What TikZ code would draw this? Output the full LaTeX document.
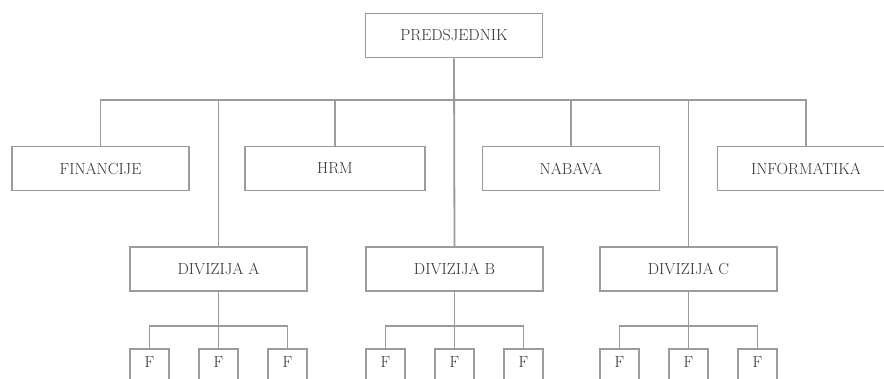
\documentclass[tikz,border=0pt]{standalone}
\usetikzlibrary{positioning,calc}
\definecolor{linegray}{RGB}{155,155,155}
\definecolor{txtgray}{RGB}{50,50,50}
\tikzset{
  orgbox/.style={draw=linegray, line width=1.8pt, fill=white, minimum width=177pt,
    minimum height=44pt, inner sep=0pt, text=txtgray, font=\fontsize{16}{18}\selectfont},
  fbox/.style={orgbox, minimum width=39pt, minimum height=0pt, inner ysep=7pt,
    text height=12pt, text depth=30pt, anchor=north},
  link/.style={draw=linegray, line width=1.8pt}
}
\begin{document}
\begin{tikzpicture}[x=1pt,y=-1pt]
		%%%%% START %%%%%
		\clip (0,0) rectangle (884,378);
		\fill[white] (0,0) rectangle (884,378);
		
		\coordinate (bus) at (454,100);
		
		\node[orgbox] (pred) at (454,35.5) {PREDSJEDNIK};
		
		\node[orgbox] (fin) at (100.5,168.5) {FINANCIJE};
		\node[orgbox, minimum width=180pt] (hrm) at (335,168.5) {HRM};
		\node[orgbox] (nab) at (571,168.5) {NABAVA};
		\node[orgbox] (inf) at (806,168.5) {INFORMATIKA};
		
		\node[orgbox] (diva) at (218.5,269) {DIVIZIJA A};
		\node[orgbox] (divb) at (454.5,269) {DIVIZIJA B};
		\node[orgbox] (divc) at (688.5,269) {DIVIZIJA C};
		
		\draw[link] (pred.south) -- (divb.north);
		\draw[link] (fin.north) |- (bus) -| (inf.north);
		\draw[link] (hrm.north) -- (hrm.north |- bus);
		\draw[link] (nab.north) -- (nab.north |- bus);
		\draw[link] (diva.north) -- (diva.north |- bus);
		\draw[link] (divc.north) -- (divc.north |- bus);
		
		% F boxes under each division
		\foreach \d in {a,b,c} {
			\coordinate (sub\d) at ($(div\d.south)+(0,34)$);
			\node[fbox] (f\d1) at ($(div\d.south)+(-69,56)$) {F};
			\node[fbox] (f\d2) at ($(div\d.south)+(0,56)$) {F};
			\node[fbox] (f\d3) at ($(div\d.south)+(69,56)$) {F};
			\draw[link] (div\d.south) -- (f\d2.north);
			\draw[link] (f\d1.north) |- (sub\d) -| (f\d3.north);
		}
		
		%%%%% END %%%%%
\end{tikzpicture}
\end{document}
